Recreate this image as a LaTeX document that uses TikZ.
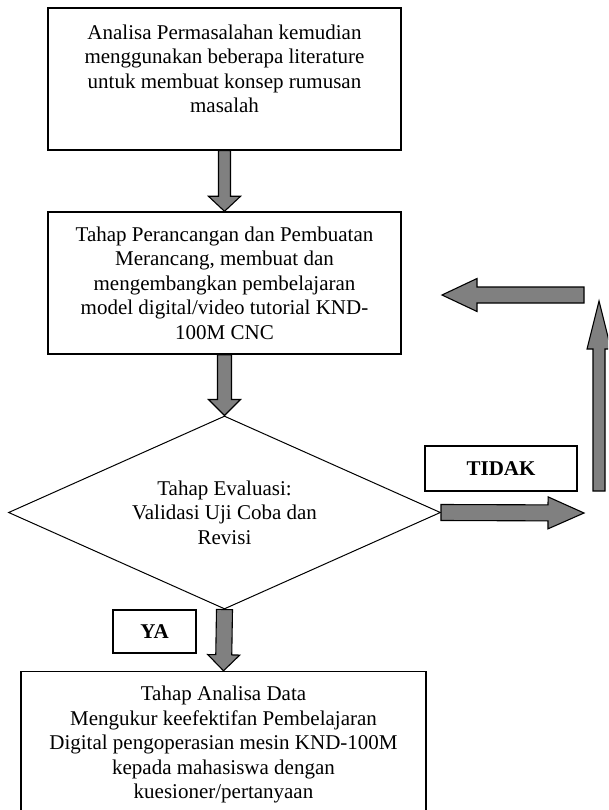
\documentclass[tikz,border=0pt]{standalone}
\usepackage{fontspec}
\setmainfont{Liberation Serif}
\usepackage{tikz}
\usetikzlibrary{calc, positioning, shapes.geometric}

% block arrow: start, end, shaft half-width, head half-width, head length
\newcommand{\fatarrow}[5]{%
  \coordinate (fa-h) at ($(#2)!#5!(#1)$);
  \draw[fatarrow] ($(#1)!#3!90:(#2)$) -- ($(fa-h)!#3!90:(#2)$) -- ($(fa-h)!#4!90:(#2)$)
    -- (#2) -- ($(fa-h)!#4!-90:(#2)$) -- ($(fa-h)!#3!-90:(#2)$) -- ($(#1)!#3!-90:(#2)$) -- cycle;
}

\begin{document}
\begin{tikzpicture}[x=1pt, y=-1pt,
    every node/.style={align=center, font=\fontsize{21}{24.5}\selectfont},
    box/.style={draw, line width=1.4pt, inner sep=0pt},
    decision/.style={draw, diamond, line width=1pt, inner sep=0pt, aspect=2.24},
    answer/.style={draw, line width=1.4pt, inner sep=0pt, font=\fontsize{21}{24.5}\selectfont\bfseries},
    fatarrow/.style={fill=arrowgray, draw=black, line width=1.1pt, line join=miter}]
      \colorlet{arrowgray}{black!50}
      \clip (0,0) rectangle (608,810);
      % boxes
      \node[box, minimum width=353pt, minimum height=142pt] (analisa) at (224.5,79) {};
      \node[below=14pt of analisa.north] (analisatxt) {Analisa Permasalahan kemudian\\menggunakan beberapa literature\\untuk membuat konsep rumusan\\masalah};
      \node[box, minimum width=353pt, minimum height=142pt] (rancang) at (224.5,283)
        {Tahap Perancangan dan Pembuatan\\Merancang, membuat dan\\mengembangkan pembelajaran\\model digital/video tutorial KND-\\100M CNC};
      \node[decision, minimum width=432pt, minimum height=193pt] (evaluasi) at (224.5,512.5)
        {Tahap Evaluasi:\\Validasi Uji Coba dan\\Revisi};
      \node[box, minimum width=405pt, minimum height=146pt] (analisadata) at (223.5,744.5)
        {Tahap Analisa Data\\Mengukur keefektifan Pembelajaran\\Digital pengoperasian mesin KND-100M\\kepada mahasiswa dengan\\kuesioner/pertanyaan};
      \node[answer, minimum width=152pt, minimum height=45pt] (tidak) at (501,468.5) {TIDAK};
      \node[answer, minimum width=83pt, minimum height=43pt] (ya) at (154.5,631.5) {YA};
      % free ends of the loop
      \coordinate (tidakend) at (584,513);
      \coordinate (upstart) at (599,491);
      \coordinate (upend) at (599,301);
      \coordinate (backstart) at (584,295);
      \coordinate (backend) at (442,295);
      % arrows
      \fatarrow{analisa.south}{rancang.north}{6pt}{16pt}{15pt}
      \fatarrow{rancang.south}{evaluasi.north}{7pt}{16pt}{16pt}
      \fatarrow{evaluasi.south}{analisadata.north}{8pt}{16pt}{16pt}
      \fatarrow{evaluasi.east}{tidakend}{8pt}{16pt}{36pt}
      \fatarrow{upstart}{upend}{6pt}{12pt}{48pt}
      \fatarrow{backstart}{backend}{8pt}{16.5pt}{35pt}
    \end{tikzpicture}
\end{document}
